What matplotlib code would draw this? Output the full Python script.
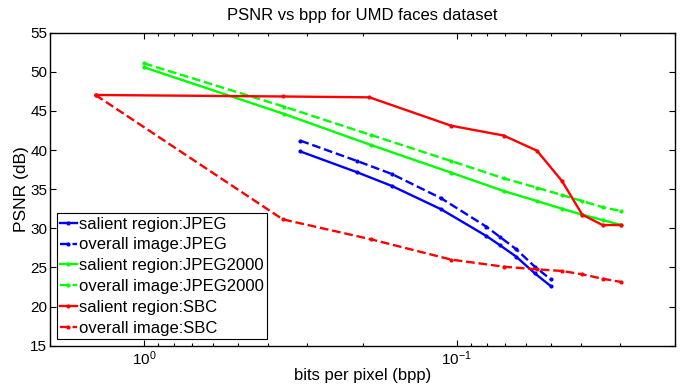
import matplotlib
matplotlib.use("Agg")
import matplotlib.pyplot as plt
from matplotlib.ticker import LogLocator, NullFormatter

plt.rcParams['font.family'] = ['Liberation Sans', 'DejaVu Sans']
plt.rcParams['mathtext.fontset'] = 'custom'
plt.rcParams['mathtext.rm'] = 'Liberation Sans'
plt.rcParams['mathtext.it'] = 'Liberation Sans'

# Data (bits per pixel, PSNR dB)
jpeg_bpp = [0.316, 0.208, 0.161, 0.112, 0.0803, 0.0728, 0.0644, 0.0562, 0.050]
jpeg_salient = [39.82, 37.16, 35.41, 32.43, 29.02, 27.87, 26.37, 24.25, 22.63]
jpeg_overall = [41.20, 38.60, 36.94, 33.84, 30.21, 28.93, 27.32, 25.10, 23.49]

j2k_bpp = [1.0, 0.356, 0.188, 0.104, 0.0707, 0.0553, 0.046, 0.0396, 0.0341, 0.0297]
j2k_salient = [50.58, 44.61, 40.65, 37.11, 34.77, 33.49, 32.51, 31.74, 31.06, 30.42]
j2k_overall = [51.09, 45.54, 41.93, 38.60, 36.39, 35.19, 34.26, 33.49, 32.70, 32.21]

sbc_bpp = [1.43, 0.36, 0.19, 0.104, 0.0707, 0.0553, 0.046, 0.0396, 0.0341, 0.0297]
sbc_salient = [47.04, 46.85, 46.74, 43.11, 41.86, 39.92, 36.05, 31.74, 30.42, 30.42]
sbc_overall_bpp = [1.43, 0.36, 0.188, 0.104, 0.0707, 0.0553, 0.046, 0.0396, 0.0341, 0.0297]
sbc_overall = [47.04, 31.15, 28.60, 26.00, 25.10, 24.76, 24.55, 24.12, 23.56, 23.14]

labels = ['salient region:JPEG', 'overall image:JPEG',
          'salient region:JPEG2000', 'overall image:JPEG2000',
          'salient region:SBC', 'overall image:SBC']

fig = plt.figure(figsize=(6.86, 3.87), dpi=100)
ax = fig.add_axes([50/686, 1-345.7/387, 625/686, 313/387])

kw = dict(marker='.', markersize=4, linewidth=1.7)
ax.plot(jpeg_bpp, jpeg_salient, '-', color='#0000ff', label=labels[0], **kw)
ax.plot(jpeg_bpp, jpeg_overall, '--', color='#0000ff', label=labels[1], **kw)
ax.plot(j2k_bpp, j2k_salient, '-', color='#00ff00', label=labels[2], **kw)
ax.plot(j2k_bpp, j2k_overall, '--', color='#00ff00', label=labels[3], **kw)
ax.plot(sbc_bpp, sbc_salient, '-', color='#ff0000', label=labels[4], **kw)
ax.plot(sbc_overall_bpp, sbc_overall, '--', color='#ff0000', label=labels[5], **kw)

ax.set_xscale('log')
ax.set_xlim(2.0, 0.02)
ax.set_ylim(15, 55)
ax.set_yticks(range(15, 56, 5))
ax.xaxis.set_major_locator(LogLocator(base=10, numticks=10))
ax.xaxis.set_minor_locator(LogLocator(base=10, subs=range(2, 10), numticks=20))
ax.xaxis.set_minor_formatter(NullFormatter())
ax.tick_params(which='both', direction='in', top=True, right=True, labelsize=11)
ax.tick_params(axis='x', which='both', pad=3)
ax.tick_params(axis='y', which='both', pad=2)
ax.tick_params(which='major', length=4, width=0.8)
ax.tick_params(which='minor', length=2.5, width=0.8)
for s in ax.spines.values():
    s.set_linewidth(1.0)

ax.set_title('PSNR vs bpp for UMD faces dataset', fontsize=12, pad=9)
ax.set_xlabel('bits per pixel (bpp)', fontsize=12, labelpad=0)
ax.set_ylabel('PSNR (dB)', fontsize=12.5, labelpad=1)

leg = ax.legend(loc='lower left', fontsize=12, handlelength=1.0, handletextpad=0.15,
                labelspacing=0.35, borderpad=0.2, borderaxespad=0.4,
                fancybox=False, framealpha=1, edgecolor='black')
leg.get_frame().set_linewidth(0.8)

fig.savefig('out.png', dpi=100)
